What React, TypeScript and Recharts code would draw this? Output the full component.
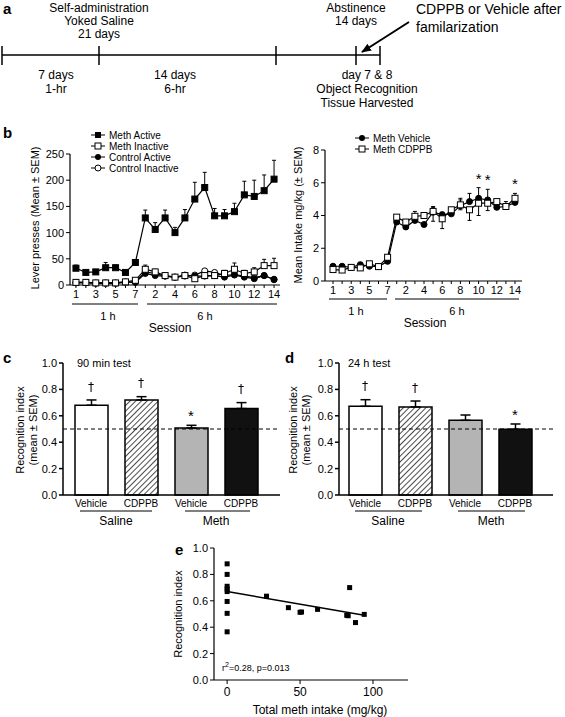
import React from "react";
import {
  ComposedChart,
  ScatterChart,
  Line,
  Bar,
  Cell,
  Scatter,
  XAxis,
  YAxis,
  ErrorBar,
  ReferenceLine,
} from "recharts";

const FONT = '"Liberation Sans", Arial, sans-serif';

// panel b: sessions (7 x 1h then 14 x 6h)
const sessions = ["1", "2", "3", "4", "5", "6", "7", "1", "2", "3", "4", "5", "6", "7", "8", "9", "10", "11", "12", "13", "14"];
const methActive = [32, 24, 25, 33, 33, 24, 43, 128, 106, 128, 100, 128, 164, 186, 132, 132, 140, 172, 169, 180, 202];
const methActiveErr = [6, 3, 3, 10, 5, 3, 5, 15, 13, 15, 10, 16, 32, 29, 14, 12, 16, 26, 31, 30, 36];
const methInactive = [5, 5, 4, 4, 4, 6, 9, 30, 25, 18, 15, 18, 12, 18, 18, 22, 30, 22, 25, 37, 37];
const methInactiveErr = [2, 1, 1, 2, 1, 2, 3, 8, 5, 3, 3, 3, 3, 4, 3, 6, 12, 6, 8, 12, 14];
const controlActive = [5, 5, 4, 4, 4, 6, 5, 22, 18, 17, 15, 19, 17, 17, 18, 15, 19, 15, 12, 18, 11];
const controlActiveErr = [1, 1, 1, 1, 1, 1, 1, 4, 3, 2, 2, 3, 3, 3, 3, 3, 4, 3, 3, 3, 2];
const controlInactive = [4, 4, 3, 3, 3, 5, 6, 25, 22, 17, 15, 17, 19, 27, 24, 18, 20, 17, 14, 18, 10];
const controlInactiveErr = [1, 1, 1, 1, 1, 1, 1, 4, 3, 2, 2, 2, 3, 3, 3, 3, 3, 3, 2, 2, 2];

const vehIntake = [0.9, 0.9, 0.83, 1.0, 0.9, 0.88, 1.2, 3.6, 3.3, 3.7, 3.45, 4.2, 4.05, 4.1, 4.6, 4.85, 5.05, 4.95, 4.5, 4.55, 4.8];
const vehIntakeErr = [0.1, 0.05, 0.05, 0.1, 0.1, 0.05, 0.1, 0.1, 0.15, 0.3, 0.1, 0.3, 0.15, 0.25, 0.35, 0.5, 0.65, 0.65, 0.1, 0.3, 0.1];
const cdppbIntake = [0.7, 0.67, 0.83, 0.8, 1.05, 0.88, 1.45, 3.9, 3.6, 3.95, 4.0, 4.25, 3.8, 4.35, 4.65, 4.35, 4.75, 4.75, 4.85, 4.55, 5.05];
const cdppbErrLow = [0.1, 0.1, 0.05, 0.1, 0.1, 0.05, 0.1, 0.1, 0.1, 0.2, 0.1, 0.6, 0.6, 0.2, 0.3, 0.65, 0.75, 0.45, 0.1, 0.1, 0.1];
const cdppbErrHigh = [0.05, 0.05, 0.05, 0.05, 0.05, 0.05, 0.05, 0.05, 0.05, 0.3, 0.05, 0.3, 0.05, 0.1, 0.4, 0.05, 0.05, 0.05, 0.1, 0.1, 0.3];
const intakeStars = [16, 17, 20];

// panels c, d
const barIds = ["sv", "sc", "mv", "mc"];
const barLabels = ["Vehicle", "CDPPB", "Vehicle", "CDPPB"];
const barFills = ["#fff", "url(#hatchC)", "#b4b4b4", "#111"];
const test90 = [0.68, 0.72, 0.508, 0.655];
const test90Err = [0.04, 0.025, 0.02, 0.045];
const test90Marks = ["†", "†", "*", "†"];
const test24 = [0.672, 0.667, 0.566, 0.498];
const test24Err = [0.05, 0.045, 0.04, 0.04];
const test24Marks = ["†", "†", "", "*"];

// panel e
const intakeX = [0, 0, 0, 0, 0, 0, 0, 0, 27, 42, 50, 51, 62, 82, 83, 84, 88, 94];
const recogY = [0.88, 0.8, 0.71, 0.69, 0.67, 0.595, 0.505, 0.365, 0.635, 0.548, 0.513, 0.515, 0.535, 0.49, 0.487, 0.7, 0.435, 0.497];
const fitX = [0, 94];
const fitY = [0.67, 0.49];

const leverRows = sessions.map((s, i) => ({
  i,
  ma: methActive[i],
  maE: [0, methActiveErr[i]],
  mi: methInactive[i],
  miE: [0, methInactiveErr[i]],
  ca: controlActive[i],
  caE: [0, controlActiveErr[i]],
  ci: controlInactive[i],
  ciE: [0, controlInactiveErr[i]],
}));

const intakeRows = sessions.map((s, i) => ({
  i,
  veh: vehIntake[i],
  vehE: [0, vehIntakeErr[i]],
  cd: cdppbIntake[i],
  cdE: [cdppbErrLow[i], cdppbErrHigh[i]],
}));

const starRows = intakeStars.map((i) => ({
  i,
  y: Math.max(vehIntake[i] + vehIntakeErr[i], cdppbIntake[i] + cdppbErrHigh[i]) + 0.25,
}));

const makeBarRows = (vals: number[], errs: number[], marks: string[]) =>
  vals.map((v, i) => ({
    id: barIds[i],
    v,
    e: [0, errs[i]],
    mark: marks[i],
    markY: marks[i] ? v + errs[i] + (marks[i] === "*" ? 0.03 : 0.07) : null,
  }));

const scatterRows = intakeX.map((x, i) => ({ x, y: recogY[i] }));
const fitRows = fitX.map((x, i) => ({ x, y: fitY[i] }));

const sessionTicks = sessions.map((s, i) => i);
const fmtSession = (v: number) => (v % 2 === 0 ? sessions[v] : "");
const fmt1 = (v: number) => v.toFixed(1);
const tickStyle = { fill: "#000", fontSize: 11, fontFamily: FONT };

const dotSquare = (fill: string) => (p: any) =>
  <rect key={`s${fill}${p.index}`} x={p.cx - 3} y={p.cy - 3} width={6} height={6} fill={fill} stroke="#000" strokeWidth={1} />;
const dotCircle = (fill: string) => (p: any) =>
  <circle key={`c${fill}${p.index}`} cx={p.cx} cy={p.cy} r={3} fill={fill} stroke="#000" strokeWidth={1} />;

const markShape = (p: any) => (
  <text
    x={p.cx}
    y={p.cy}
    textAnchor="middle"
    fontSize={p.payload.mark === "*" ? 15 : 12}
    fontFamily={p.payload.mark === "*" ? FONT : '"DejaVu Sans", sans-serif'}
    fill="#000"
    style={{ opacity: 0.99 }}
  >
    {p.payload.mark}
  </text>
);
const starShape = (p: any) => (
  <text x={p.cx} y={p.cy} textAnchor="middle" fontSize={15} fontFamily={FONT} fill="#000" style={{ opacity: 0.99 }}>*</text>
);
const smallSquare = (p: any) => <rect x={p.cx - 2.5} y={p.cy - 2.5} width={5} height={5} fill="#000" />;

const LegendItem = ({ x, y, label, kind }: { x: number; y: number; label: string; kind: string }) => (
  <g>
    <line x1={x - 7} y1={y} x2={x + 7} y2={y} stroke="#000" strokeWidth={1} />
    {kind === "fs" && <rect x={x - 3} y={y - 3} width={6} height={6} fill="#000" />}
    {kind === "os" && <rect x={x - 3} y={y - 3} width={6} height={6} fill="#fff" stroke="#000" />}
    {kind === "fc" && <circle cx={x} cy={y} r={3} fill="#000" />}
    {kind === "oc" && <circle cx={x} cy={y} r={3} fill="#fff" stroke="#000" />}
    <text x={x + 11} y={y + 3.5} fontSize={10}>{label}</text>
  </g>
);

const Session = ({ l1, l2, x6a, x6b, y, c1, c6, cs }: any) => (
  <g>
    <line x1={l1} y1={y} x2={l2} y2={y} stroke="#000" strokeWidth={1} />
    <line x1={x6a} y1={y} x2={x6b} y2={y} stroke="#000" strokeWidth={1} />
    <text x={c1} y={y + 16} fontSize={11} textAnchor="middle">1 h</text>
    <text x={c6} y={y + 16} fontSize={11} textAnchor="middle">6 h</text>
    <text x={cs} y={y + 28} fontSize={12} textAnchor="middle">Session</text>
  </g>
);

const BarPanel = ({ rows, hatchId, yw, padL, padR, right }: any) => (
  <ComposedChart width={285} height={160} data={rows} margin={{ top: 8, right, bottom: 0, left: 0 }}>
    <defs>
      <pattern id={hatchId} patternUnits="userSpaceOnUse" width={4} height={4} patternTransform="rotate(45)">
        <rect width={4} height={4} fill="#fff" />
        <line x1={0} y1={0} x2={0} y2={4} stroke="#000" strokeWidth={1.4} />
      </pattern>
    </defs>
    <XAxis
      dataKey="id"
      type="category"
      padding={{ left: padL, right: padR }}
      tickFormatter={(v: string) => barLabels[barIds.indexOf(v)]}
      tick={{ ...tickStyle, fontSize: 10 }}
      tickLine={false}
      tickSize={0}
      tickMargin={5}
      axisLine={{ stroke: "#000", strokeWidth: 1.5 }}
      height={20}
      interval={0}
    />
    <YAxis
      type="number"
      domain={[0, 1]}
      ticks={[0, 0.2, 0.4, 0.6, 0.8, 1.0]}
      tickFormatter={fmt1}
      width={yw}
      tick={tickStyle}
      tickSize={4}
      tickMargin={2}
      axisLine={{ stroke: "#000", strokeWidth: 1.5 }}
      tickLine={{ stroke: "#000", strokeWidth: 1.5 }}
    />
    <Bar dataKey="v" barSize={33} stroke="#000" strokeWidth={1.5} isAnimationActive={false}>
      {rows.map((r: any, i: number) => (
        <Cell key={r.id} fill={barFills[i].replace("hatchC", hatchId)} />
      ))}
      <ErrorBar dataKey="e" width={5} stroke="#000" strokeWidth={1.5} />
    </Bar>
    <ReferenceLine y={0.5} stroke="#000" strokeDasharray="4 3" strokeWidth={1} />
    <Scatter dataKey="markY" fill="#000" shape={markShape} isAnimationActive={false} />
  </ComposedChart>
);

export default function App() {
  return (
    <div style={{ position: "absolute", left: 0, top: 0, width: 565, height: 717, background: "#fff", fontFamily: FONT }}>
      {/* b left */}
      <div style={{ position: "absolute", left: 0, top: 140 }}>
        <ComposedChart width={285} height={170} data={leverRows} margin={{ top: 14, right: 5, bottom: 5, left: 0 }}>
          <XAxis
            dataKey="i"
            type="number"
            domain={[-0.6, 20.6]}
            ticks={sessionTicks}
            interval={0}
            tickFormatter={fmtSession}
            tick={tickStyle}
            tickSize={3}
            tickMargin={2}
            height={20}
            axisLine={{ stroke: "#000", strokeWidth: 1.2 }}
            tickLine={{ stroke: "#000" }}
          />
          <YAxis
            type="number"
            domain={[0, 250]}
            ticks={[0, 50, 100, 150, 200, 250]}
            width={70}
            tick={tickStyle}
            tickSize={4}
            tickMargin={2}
            axisLine={{ stroke: "#000", strokeWidth: 1.2 }}
            tickLine={{ stroke: "#000" }}
          />
          <Line dataKey="ci" stroke="#000" strokeWidth={1.2} dot={dotCircle("#fff")} isAnimationActive={false}>
            <ErrorBar dataKey="ciE" width={2} stroke="#000" strokeWidth={1} />
          </Line>
          <Line dataKey="ca" stroke="#000" strokeWidth={1.2} dot={dotCircle("#000")} isAnimationActive={false}>
            <ErrorBar dataKey="caE" width={2} stroke="#000" strokeWidth={1} />
          </Line>
          <Line dataKey="mi" stroke="#000" strokeWidth={1.2} dot={dotSquare("#fff")} isAnimationActive={false}>
            <ErrorBar dataKey="miE" width={2} stroke="#000" strokeWidth={1} />
          </Line>
          <Line dataKey="ma" stroke="#000" strokeWidth={1.2} dot={dotSquare("#000")} isAnimationActive={false}>
            <ErrorBar dataKey="maE" width={2} stroke="#000" strokeWidth={1} />
          </Line>
        </ComposedChart>
      </div>

      {/* b right */}
      <div style={{ position: "absolute", left: 280, top: 140 }}>
        <ComposedChart width={285} height={170} data={intakeRows} margin={{ top: 10, right: 43, bottom: 9, left: 0 }}>
          <XAxis
            dataKey="i"
            type="number"
            domain={[-0.88, 20.77]}
            ticks={sessionTicks}
            interval={0}
            tickFormatter={fmtSession}
            tick={tickStyle}
            tickSize={3}
            tickMargin={2}
            height={20}
            axisLine={{ stroke: "#000", strokeWidth: 1.2 }}
            tickLine={{ stroke: "#000" }}
          />
          <YAxis
            type="number"
            domain={[0, 8]}
            ticks={[0, 2, 4, 6, 8]}
            width={45}
            tick={tickStyle}
            tickSize={4}
            tickMargin={2}
            axisLine={{ stroke: "#000", strokeWidth: 1.2 }}
            tickLine={{ stroke: "#000" }}
          />
          <Line dataKey="veh" stroke="#000" strokeWidth={1.2} dot={dotCircle("#000")} isAnimationActive={false}>
            <ErrorBar dataKey="vehE" width={2} stroke="#000" strokeWidth={1} />
          </Line>
          <Line dataKey="cd" stroke="#000" strokeWidth={1.2} dot={dotSquare("#fff")} isAnimationActive={false}>
            <ErrorBar dataKey="cdE" width={2} stroke="#000" strokeWidth={1} />
          </Line>
          <Scatter data={starRows} dataKey="y" fill="#000" shape={starShape} isAnimationActive={false} />
        </ComposedChart>
      </div>

      {/* c */}
      <div style={{ position: "absolute", left: 0, top: 355 }}>
        <BarPanel rows={makeBarRows(test90, test90Err, test90Marks)} hatchId="hatchC" yw={63} padL={3} padR={14} right={5} />
      </div>

      {/* d */}
      <div style={{ position: "absolute", left: 280, top: 355 }}>
        <BarPanel rows={makeBarRows(test24, test24Err, test24Marks)} hatchId="hatchD" yw={59} padL={1} padR={13} right={12} />
      </div>

      {/* e */}
      <div style={{ position: "absolute", left: 160, top: 540 }}>
        <ScatterChart width={260} height={177} margin={{ top: 8, right: 12, bottom: 15, left: 0 }}>
          <XAxis
            dataKey="x"
            type="number"
            domain={[-9, 124]}
            ticks={[0, 50, 100]}
            tick={{ ...tickStyle, fontSize: 12 }}
            tickSize={4}
            tickMargin={3}
            height={22}
            axisLine={{ stroke: "#000", strokeWidth: 1.2 }}
            tickLine={{ stroke: "#000" }}
          />
          <YAxis
            dataKey="y"
            type="number"
            domain={[0, 1]}
            ticks={[0, 0.2, 0.4, 0.6, 0.8, 1.0]}
            tickFormatter={fmt1}
            width={54}
            tick={tickStyle}
            tickSize={4}
            tickMargin={2}
            axisLine={{ stroke: "#000", strokeWidth: 1.2 }}
            tickLine={{ stroke: "#000" }}
          />
          <Scatter data={scatterRows} fill="#000" shape={smallSquare} isAnimationActive={false} />
          <Scatter data={fitRows} line={{ stroke: "#000", strokeWidth: 1.5 }} shape={() => <g />} isAnimationActive={false} />
        </ScatterChart>
      </div>

      {/* text overlay */}
      <svg width={565} height={717} style={{ position: "absolute", left: 0, top: 0, pointerEvents: "none" }} fontFamily={FONT} fill="#000">
        <defs>
          <marker id="arrowHead" markerWidth={10} markerHeight={8} refX={9} refY={4} orient="auto" markerUnits="userSpaceOnUse">
            <path d="M0,0 L10,4 L0,8 z" fill="#000" />
          </marker>
        </defs>
        {/* a */}
        <text x={3} y={14} fontSize={15} fontWeight="bold">a</text>
        <line x1={2} y1={55} x2={380} y2={55} stroke="#000" strokeWidth={1.5} />
        {[2, 99, 276, 356, 380].map((x) => (
          <line key={x} x1={x} y1={46} x2={x} y2={65} stroke="#000" strokeWidth={1.5} />
        ))}
        <g fontSize={12} textAnchor="middle">
          <text x={99} y={12}>Self-administration</text>
          <text x={99} y={25}>Yoked Saline</text>
          <text x={99} y={38}>21 days</text>
          <text x={356} y={12}>Abstinence</text>
          <text x={356} y={25}>14 days</text>
          <text x={56} y={79}>7 days</text>
          <text x={56} y={93}>1-hr</text>
          <text x={175} y={79}>14 days</text>
          <text x={175} y={93}>6-hr</text>
          <text x={367} y={79}>day 7 &amp; 8</text>
          <text x={367} y={93}>Object Recognition</text>
          <text x={367} y={107}>Tissue Harvested</text>
        </g>
        <text x={416} y={14} fontSize={14}>CDPPB or Vehicle after</text>
        <text x={416} y={32} fontSize={14}>familarization</text>
        <line x1={409} y1={22} x2={362} y2={52} stroke="#000" strokeWidth={2} markerEnd="url(#arrowHead)" />

        {/* b */}
        <text x={3} y={138} fontSize={15} fontWeight="bold">b</text>
        <LegendItem x={98} y={135} label="Meth Active" kind="fs" />
        <LegendItem x={98} y={146} label="Meth Inactive" kind="os" />
        <LegendItem x={98} y={157} label="Control Active" kind="fc" />
        <LegendItem x={98} y={168} label="Control Inactive" kind="oc" />
        <text transform="translate(39,218) rotate(-90)" fontSize={11} textAnchor="middle">Lever presses (Mean ± SEM)</text>
        <Session l1={72} l2={138} x6a={147} x6b={277} y={304} c1={108} c6={205} cs={170} />

        <LegendItem x={362} y={138} label="Meth Vehicle" kind="fc" />
        <LegendItem x={362} y={149} label="Meth CDPPB" kind="os" />
        <text transform="translate(302,215) rotate(-90)" fontSize={11} textAnchor="middle">Mean Intake mg/kg (± SEM)</text>
        <Session l1={329} l2={387} x6a={395} x6b={519} y={299} c1={356} c6={457} cs={425} />

        {/* c */}
        <text x={3} y={363} fontSize={15} fontWeight="bold">c</text>
        <text x={77} y={367} fontSize={11}>90 min test</text>
        <text transform="translate(24,430) rotate(-90)" fontSize={11} textAnchor="middle">Recognition index</text>
        <text transform="translate(37,430) rotate(-90)" fontSize={11} textAnchor="middle">(mean ± SEM)</text>
        <line x1={80} y1={511} x2={152} y2={511} stroke="#000" />
        <line x1={185} y1={511} x2={250} y2={511} stroke="#000" />
        <text x={116} y={525} fontSize={12} textAnchor="middle">Saline</text>
        <text x={216} y={525} fontSize={12} textAnchor="middle">Meth</text>

        {/* d */}
        <text x={285} y={363} fontSize={15} fontWeight="bold">d</text>
        <text x={348} y={367} fontSize={11}>24 h test</text>
        <text transform="translate(297,430) rotate(-90)" fontSize={11} textAnchor="middle">Recognition index</text>
        <text transform="translate(310,430) rotate(-90)" fontSize={11} textAnchor="middle">(mean ± SEM)</text>
        <line x1={355} y1={511} x2={422} y2={511} stroke="#000" />
        <line x1={458} y1={511} x2={525} y2={511} stroke="#000" />
        <text x={388} y={525} fontSize={12} textAnchor="middle">Saline</text>
        <text x={491} y={525} fontSize={12} textAnchor="middle">Meth</text>

        {/* e */}
        <text x={175} y={555} fontSize={15} fontWeight="bold">e</text>
        <text transform="translate(182,614) rotate(-90)" fontSize={11} textAnchor="middle">Recognition index</text>
        <text x={222} y={671} fontSize={9}>
          r<tspan dy={-4} fontSize={7}>2</tspan>
          <tspan dy={4}>=0.28, p=0.013</tspan>
        </text>
        <text x={320} y={714} fontSize={12} textAnchor="middle">Total meth intake (mg/kg)</text>
      </svg>
    </div>
  );
}
